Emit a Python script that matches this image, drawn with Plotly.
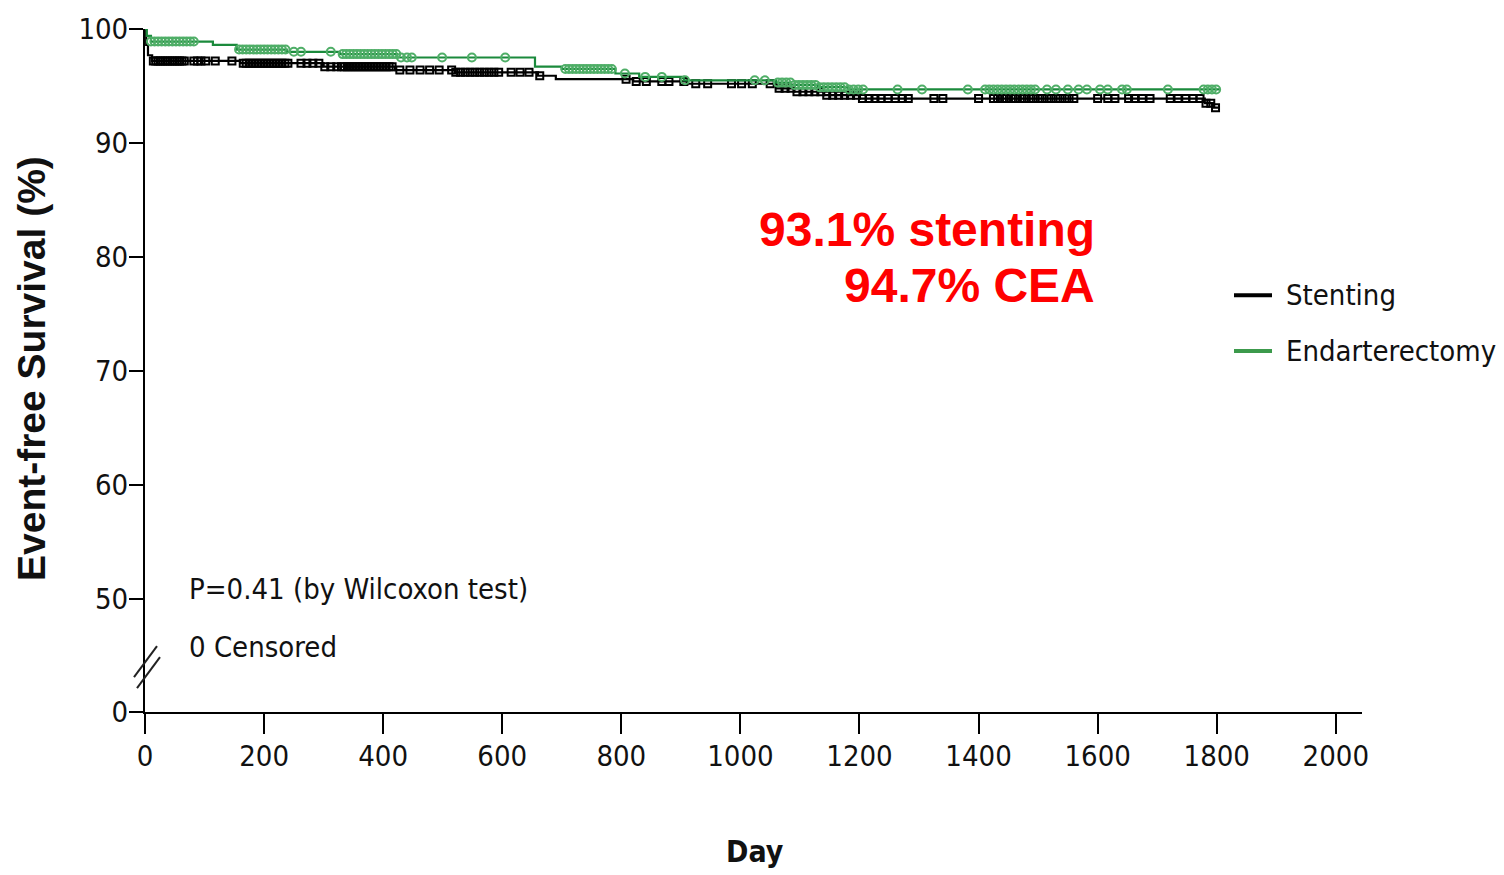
import numpy as np
import plotly.graph_objects as go

# Kaplan-Meier step points (day, event-free survival %)
stent_days = [0, 2, 5, 12, 160, 300, 420, 520, 660, 690, 820, 910, 1060, 1090, 1140, 1200, 1780, 1795, 1805]
stent_surv = [100, 98.6, 97.7, 97.2, 97.0, 96.7, 96.4, 96.2, 95.9, 95.6, 95.4, 95.2, 94.8, 94.5, 94.2, 93.9, 93.5, 93.1, 93.1]

cea_days = [0, 3, 10, 114, 154, 238, 327, 423, 655, 700, 790, 830, 905, 1060, 1085, 1130, 1180, 1805]
cea_surv = [100, 99.4, 98.9, 98.6, 98.2, 98.0, 97.8, 97.5, 96.7, 96.5, 96.1, 95.8, 95.5, 95.3, 95.1, 94.9, 94.7, 94.7]

# Censoring times
stent_cens = [14, 18, 22, 26, 30, 34, 38, 42, 46, 50, 54, 58, 62, 66, 82, 88, 94, 102, 118, 146,
              165, 170, 175, 180, 185, 190, 195, 200, 205, 210, 215, 220, 225, 230, 235, 240,
              262, 272, 282, 292, 302, 312, 322, 330, 335, 340, 345, 350, 355, 360, 365, 370,
              375, 380, 385, 390, 395, 400, 405, 410, 415, 428, 445, 462, 478, 494, 515, 522,
              530, 538, 546, 554, 562, 570, 578, 586, 594, 615, 630, 645, 663, 808, 825, 842,
              868, 880, 905, 925, 945, 985, 1002, 1020, 1050, 1065, 1075, 1085, 1095, 1105,
              1115, 1125, 1135, 1145, 1155, 1165, 1175, 1185, 1195, 1205, 1216, 1226, 1236,
              1248, 1260, 1272, 1282, 1325, 1340, 1400, 1425, 1432, 1440, 1447, 1455, 1462,
              1470, 1477, 1485, 1492, 1500, 1507, 1515, 1522, 1530, 1537, 1545, 1552, 1560,
              1600, 1617, 1629, 1652, 1662, 1675, 1688, 1722, 1735, 1748, 1760, 1772, 1782,
              1790, 1798]
cea_cens = [10, 16, 22, 28, 34, 40, 46, 52, 58, 64, 70, 76, 82, 158, 164, 170, 176, 182, 188,
            194, 200, 206, 212, 218, 224, 230, 236, 250, 262, 312, 332, 338, 344, 350, 356,
            362, 368, 374, 380, 386, 392, 398, 404, 410, 416, 422, 430, 440, 448, 499, 549,
            605, 706, 712, 718, 724, 730, 736, 742, 748, 754, 760, 766, 772, 778, 784, 806,
            840, 868, 907, 1024, 1041, 1063, 1070, 1077, 1084, 1091, 1098, 1105, 1112, 1119,
            1126, 1133, 1140, 1147, 1154, 1161, 1168, 1175, 1182, 1190, 1198, 1206, 1264,
            1305, 1382, 1411, 1418, 1425, 1432, 1439, 1446, 1453, 1460, 1467, 1474, 1481,
            1488, 1495, 1515, 1530, 1550, 1568, 1582, 1604, 1617, 1641, 1649, 1718, 1778,
            1785, 1792, 1799]

y_ticks = [40.12, 50, 60, 70, 80, 90, 100]
y_tick_text = ["0", "50", "60", "70", "80", "90", "100"]
x_ticks = [0, 200, 400, 600, 800, 1000, 1200, 1400, 1600, 1800, 2000]

BLACK = "#000000"
GREEN = "#1B8A3C"
GREEN_MK = "#4FAE67"
NARROW = "DejaVu Sans Condensed, sans-serif"
SANS = "Liberation Sans, Arial, sans-serif"


def surv_at(times, days, surv):
    d = np.asarray(days)
    s = np.asarray(surv)
    idx = np.searchsorted(d, np.asarray(times), side="right") - 1
    return s[idx]


fig = go.Figure()

fig.add_trace(go.Scatter(x=stent_days, y=stent_surv, mode="lines", line_shape="hv",
                         line=dict(color=BLACK, width=2.2), cliponaxis=False,
                         name="Stenting", showlegend=False))
fig.add_trace(go.Scatter(x=stent_cens, y=surv_at(stent_cens, stent_days, stent_surv),
                         mode="markers", cliponaxis=False, showlegend=False,
                         marker=dict(symbol="square-open", size=7, color=BLACK,
                                     line=dict(width=2, color=BLACK))))
fig.add_trace(go.Scatter(x=cea_days, y=cea_surv, mode="lines", line_shape="hv",
                         line=dict(color=GREEN, width=2.2), cliponaxis=False,
                         name="Endarterectomy", showlegend=False))
fig.add_trace(go.Scatter(x=cea_cens, y=surv_at(cea_cens, cea_days, cea_surv),
                         mode="markers", cliponaxis=False, showlegend=False,
                         marker=dict(symbol="circle-open", size=8, color=GREEN_MK,
                                     line=dict(width=2, color=GREEN_MK))))

# px -> paper helpers for the fixed-size canvas
L, T, W, H = 145, 27, 1217, 685


def px(xp):
    return (xp - L) / W


def py(yp):
    return (T + H - yp) / H


TXT = "#111111"
FS = 29
annotations = [
    dict(text="Event-free Survival (%)", x=px(31), y=py(368), textangle=-90,
         font=dict(family=SANS, size=39, color=TXT, weight="bold"),
         xanchor="center", yanchor="middle"),
    dict(text="Day", x=px(755), y=py(852),
         font=dict(family=NARROW, size=30, color=TXT, weight="bold"),
         xanchor="center", yanchor="middle"),
    dict(text="P=0.41 (by Wilcoxon test)", x=px(187), y=py(589), xanchor="left", yanchor="middle",
         font=dict(family=NARROW, size=FS, color=TXT)),
    dict(text="0 Censored", x=px(187), y=py(647), xanchor="left", yanchor="middle",
         font=dict(family=NARROW, size=FS, color=TXT)),
    dict(text="93.1% stenting", x=px(1097), y=py(228), xanchor="right", yanchor="middle",
         font=dict(family=SANS, size=48, color="#FF0000", weight="bold")),
    dict(text="94.7% CEA", x=px(1097), y=py(284), xanchor="right", yanchor="middle",
         font=dict(family=SANS, size=48, color="#FF0000", weight="bold")),
    dict(text="Stenting", x=px(1284), y=py(294), xanchor="left", yanchor="middle",
         font=dict(family=NARROW, size=FS, color=TXT)),
    dict(text="Endarterectomy", x=px(1284), y=py(350), xanchor="left", yanchor="middle",
         font=dict(family=NARROW, size=FS, color=TXT)),
]
for a in annotations:
    a.update(xref="paper", yref="paper", showarrow=False)

shapes = [
    # legend keys
    dict(type="line", x0=px(1234), x1=px(1272), y0=py(294), y1=py(294),
         line=dict(color=BLACK, width=4)),
    dict(type="line", x0=px(1234), x1=px(1272), y0=py(350), y1=py(350),
         line=dict(color="#3C9A4C", width=4)),
    # axis break marks
    dict(type="line", x0=px(134), x1=px(157), y0=py(677), y1=py(646),
         line=dict(color="#222222", width=2)),
    dict(type="line", x0=px(137), x1=px(160), y0=py(688), y1=py(657),
         line=dict(color="#222222", width=2)),
]
for s in shapes:
    s.update(xref="paper", yref="paper")

fig.update_layout(
    width=1504, height=875,
    margin=dict(l=L, r=1504 - L - W, t=T, b=875 - T - H),
    paper_bgcolor="white", plot_bgcolor="white",
    showlegend=False,
    annotations=annotations,
    shapes=shapes,
    xaxis=dict(range=[0, 2044], tickvals=x_ticks, ticks="outside", ticklen=20, tickwidth=2,
               tickcolor=BLACK, showline=True, linecolor=BLACK, linewidth=2, showgrid=False,
               zeroline=False, ticklabelstandoff=-3,
               tickfont=dict(family=NARROW, size=FS, color=TXT)),
    yaxis=dict(range=[40.12, 100], tickvals=y_ticks, ticktext=y_tick_text, ticks="outside",
               ticklen=14, tickwidth=2, tickcolor=BLACK, showline=True, linecolor=BLACK,
               linewidth=2, showgrid=False, zeroline=False, ticklabelstandoff=-5,
               tickfont=dict(family=NARROW, size=FS, color=TXT)),
)

fig.write_html("out.html")
